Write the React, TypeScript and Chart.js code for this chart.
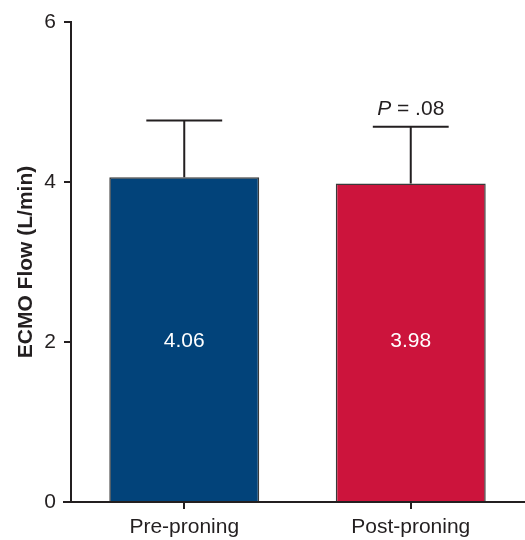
import React, { useEffect, useRef } from "react";
import { Chart, registerables } from "chart.js";

Chart.register(...registerables);

const categories = ["Pre-proning", "Post-proning"];
const means = [4.06, 3.98];
const errorTops = [4.77, 4.69];
const valueLabels = ["4.06", "3.98"];
const barColors = ["#02437a", "#cc143c"];
const yTicks = [0, 2, 4, 6];
const pAnnotation = { index: 1, italic: "P", rest: " = .08" };

const FONT = "'Liberation Sans', Arial, Helvetica, sans-serif";
const INK = "#231f20";

const overlayPlugin = {
  id: "overlay",
  afterDatasetsDraw(chart: any) {
    const { ctx, chartArea } = chart;
    const y = chart.scales.y;
    ctx.save();
    ctx.strokeStyle = INK;
    ctx.lineWidth = 2;
    ctx.beginPath();
    ctx.moveTo(chartArea.left - 8, y.getPixelForValue(0));
    ctx.lineTo(chartArea.left, y.getPixelForValue(0));
    ctx.stroke();

    const meta = chart.getDatasetMeta(0);
    meta.data.forEach((bar: any, i: number) => {
      const cx = bar.x;
      const top = y.getPixelForValue(means[i]);
      const eTop = y.getPixelForValue(errorTops[i]);
      const capHalf = bar.width * 0.253;
      ctx.strokeStyle = INK;
      ctx.lineWidth = 2;
      ctx.beginPath();
      ctx.moveTo(cx, top);
      ctx.lineTo(cx, eTop);
      ctx.moveTo(cx - capHalf, eTop);
      ctx.lineTo(cx + capHalf, eTop);
      ctx.stroke();

      ctx.fillStyle = "#ffffff";
      ctx.font = `21px ${FONT}`;
      ctx.textAlign = "center";
      ctx.textBaseline = "middle";
      ctx.fillText(valueLabels[i], cx, y.getPixelForValue(2) - 1);

      if (i === pAnnotation.index) {
        ctx.fillStyle = INK;
        ctx.textBaseline = "alphabetic";
        ctx.font = `italic 21px ${FONT}`;
        const w1 = ctx.measureText(pAnnotation.italic).width;
        ctx.font = `21px ${FONT}`;
        const w2 = ctx.measureText(pAnnotation.rest).width;
        const start = cx - (w1 + w2) / 2;
        ctx.textAlign = "left";
        ctx.font = `italic 21px ${FONT}`;
        ctx.fillText(pAnnotation.italic, start, eTop - 12);
        ctx.font = `21px ${FONT}`;
        ctx.fillText(pAnnotation.rest, start + w1, eTop - 12);
      }
    });
    ctx.restore();
  },
};

export default function App() {
  const ref = useRef<HTMLCanvasElement | null>(null);
  useEffect(() => {
    if (!ref.current) return;
    const chart = new Chart(ref.current, {
      type: "bar",
      data: {
        labels: categories,
        datasets: [
          {
            data: means,
            backgroundColor: barColors,
            borderColor: "#3a3a3a",
            borderWidth: 1.5,
            barPercentage: 0.662,
            categoryPercentage: 1,
          },
        ],
      },
      options: {
        animation: false,
        responsive: false,
        maintainAspectRatio: false,
        layout: { padding: { top: 22, right: 1, left: 0, bottom: 0 } },
        plugins: { legend: { display: false }, tooltip: { enabled: false } },
        scales: {
          x: {
            type: "category",
            offset: true,
            grid: {
              offset: false,
              drawOnChartArea: false,
              drawTicks: true,
              tickLength: 7,
              color: INK,
              lineWidth: 2,
            },
            border: { display: true, color: INK, width: 2 },
            ticks: {
              color: INK,
              font: { family: FONT, size: 21 },
              padding: 6,
              maxRotation: 0,
            },
            afterFit: (s: any) => {
              s.height = 38;
            },
          },
          y: {
            min: 0,
            max: 6,
            afterBuildTicks: (s: any) => {
              s.ticks = yTicks.map((v) => ({ value: v }));
            },
            grid: {
              drawOnChartArea: false,
              drawTicks: true,
              tickLength: 7,
              color: INK,
              lineWidth: 2,
            },
            border: { display: true, color: INK, width: 2 },
            ticks: {
              color: INK,
              font: { family: FONT, size: 21 },
              padding: 8,
            },
            title: {
              display: true,
              text: "ECMO Flow (L/min)",
              color: INK,
              font: { family: FONT, size: 21, weight: "bold" },
              padding: { top: 14, bottom: 0 },
            },
            afterFit: (s: any) => {
              s.width = 71;
            },
          },
        },
      },
      plugins: [overlayPlugin],
    });
    return () => chart.destroy();
  }, []);
  return (
    <div style={{ position: "fixed", left: 0, top: 0, width: 525, height: 540, background: "#fff" }}>
      <canvas ref={ref} width={525} height={540} style={{ display: "block" }} />
    </div>
  );
}
